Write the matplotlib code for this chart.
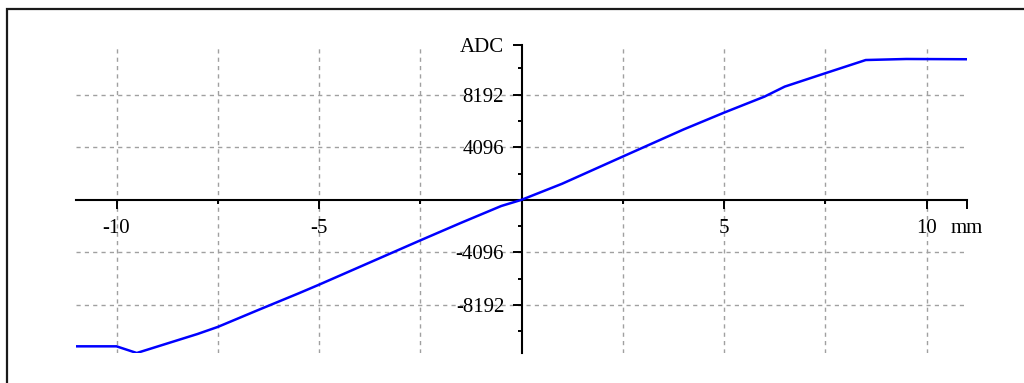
import matplotlib
matplotlib.use("Agg")
import matplotlib.pyplot as plt
from matplotlib.patches import Rectangle

# position (mm) vs. ADC reading
pos_mm = [-11, -10, -9.5, -8, -7.5, -6.5, -5.5, -5, -2.5, -1.5, -0.5, 0,
          1, 2.5, 4, 5, 6, 6.5, 7.5, 8.5, 9.5, 11]
adc = [-11410, -11410, -11930, -10450, -9900, -8580, -7280, -6610, -3160,
       -1800, -480, 0, 1250, 3370, 5480, 6790, 8040, 8820, 9860, 10890,
       10970, 10950]

x_ticks = [-10, -5, 5, 10, 11]
x_labels = ["-10", "-5", "5", "10", "mm"]
x_minor = [-7.5, -2.5, 2.5, 7.5]
x_grid = [-10, -7.5, -5, -2.5, 2.5, 5, 7.5, 10]

y_ticks = [-8192, -4096, 4096, 8192, 12060]
y_labels = ["-8192", "-4096", "4096", "8192", "ADC"]
y_minor = [-10240, -6144, -2048, 2048, 6144, 10240]
y_grid = [-8192, -4096, 4096, 8192]

plt.rcParams["font.family"] = ["Liberation Serif", "DejaVu Serif"]
plt.rcParams["font.size"] = 15

fig = plt.figure(figsize=(10.24, 3.83), dpi=100)
ax = fig.add_axes([76 / 1024, 1 - 353 / 383, 891 / 1024, 308 / 383])

ax.set_xlim(-11, 11)
ax.set_ylim(-11930, 12060)

for xv in x_grid:
    ax.axvline(xv, ymax=0.99, color="#a0a0a0", lw=1.0, ls=(0, (3, 3)), zorder=0)
for yv in y_grid:
    ax.axhline(yv, color="#a0a0a0", lw=1.0, ls=(0, (3, 3)), zorder=0)

ax.plot(pos_mm, adc, color="#0000ff", lw=1.8, zorder=3)

# axes crossing at the origin
for side in ["top", "right"]:
    ax.spines[side].set_visible(False)
ax.spines["left"].set_position(("data", 0))
ax.spines["bottom"].set_position(("data", 0))
ax.spines["left"].set_linewidth(1.5)
ax.spines["bottom"].set_linewidth(1.5)
ax.patch.set_alpha(0)

ax.set_xticks(x_ticks)
ax.set_xticklabels(x_labels)
ax.set_xticks(x_minor, minor=True)
ax.set_yticks(y_ticks)
ax.set_yticklabels(y_labels)
ax.set_yticks(y_minor, minor=True)

ax.tick_params(which="major", direction="out", length=6.5, width=1.4)
ax.tick_params(which="minor", direction="out", length=3.2, width=1.4)
ax.tick_params(axis="x", which="major", pad=7.5)
ax.tick_params(axis="y", which="major", pad=6)

# frame around the figure
fig.patches.append(Rectangle((7 / 1024, -0.2), 1.2, 1.2 - 9 / 383,
                             transform=fig.transFigure, fill=False,
                             edgecolor="#1a1a1a", lw=1.6, clip_on=False))

fig.savefig("out.png", dpi=100)
